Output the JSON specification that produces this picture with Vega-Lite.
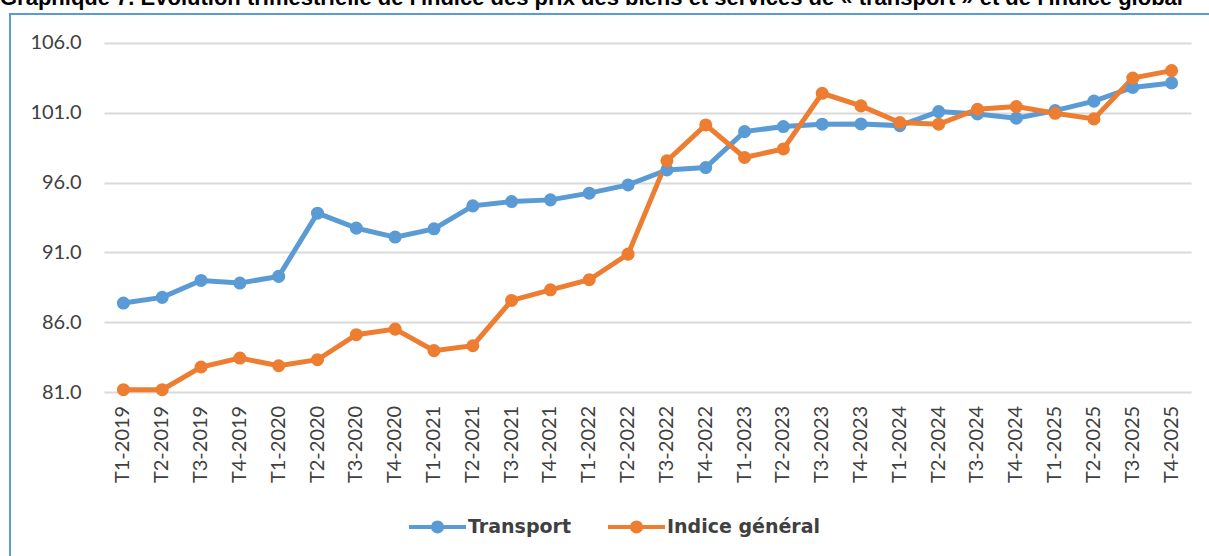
{
  "$schema": "https://vega.github.io/schema/vega-lite/v6.json",
  "autosize": {"type": "none"},
  "width": 1209,
  "height": 560,
  "padding": {"left": 10, "top": 14, "right": 0, "bottom": 0},
  "background": "white",
  "config": {
    "view": {"stroke": "#5B9BD5", "strokeWidth": 2},
    "font": "Lato"
  },
  "title": {
    "text": "Graphique 7. Évolution trimestrielle de l'indice des prix des biens et services de « transport » et de l'indice global",
    "anchor": "start",
    "font": "Liberation Sans",
    "fontWeight": "bold",
    "fontSize": 22,
    "color": "#000000",
    "baseline": "alphabetic",
    "offset": 6,
    "dy": 19,
    "dx": -10
  },
  "data": {
    "values": [
      {"q": "T1-2019", "serie": "Transport", "v": 87.38},
      {"q": "T2-2019", "serie": "Transport", "v": 87.79},
      {"q": "T3-2019", "serie": "Transport", "v": 89.0},
      {"q": "T4-2019", "serie": "Transport", "v": 88.81},
      {"q": "T1-2020", "serie": "Transport", "v": 89.29},
      {"q": "T2-2020", "serie": "Transport", "v": 93.81},
      {"q": "T3-2020", "serie": "Transport", "v": 92.74},
      {"q": "T4-2020", "serie": "Transport", "v": 92.1},
      {"q": "T1-2021", "serie": "Transport", "v": 92.69},
      {"q": "T2-2021", "serie": "Transport", "v": 94.33},
      {"q": "T3-2021", "serie": "Transport", "v": 94.64},
      {"q": "T4-2021", "serie": "Transport", "v": 94.76},
      {"q": "T1-2022", "serie": "Transport", "v": 95.24},
      {"q": "T2-2022", "serie": "Transport", "v": 95.83},
      {"q": "T3-2022", "serie": "Transport", "v": 96.9},
      {"q": "T4-2022", "serie": "Transport", "v": 97.07},
      {"q": "T1-2023", "serie": "Transport", "v": 99.64},
      {"q": "T2-2023", "serie": "Transport", "v": 100.0},
      {"q": "T3-2023", "serie": "Transport", "v": 100.17},
      {"q": "T4-2023", "serie": "Transport", "v": 100.19},
      {"q": "T1-2024", "serie": "Transport", "v": 100.07},
      {"q": "T2-2024", "serie": "Transport", "v": 101.07},
      {"q": "T3-2024", "serie": "Transport", "v": 100.9},
      {"q": "T4-2024", "serie": "Transport", "v": 100.6},
      {"q": "T1-2025", "serie": "Transport", "v": 101.14},
      {"q": "T2-2025", "serie": "Transport", "v": 101.82},
      {"q": "T3-2025", "serie": "Transport", "v": 102.8},
      {"q": "T4-2025", "serie": "Transport", "v": 103.12},
      {"q": "T1-2019", "serie": "Indice général", "v": 81.19},
      {"q": "T2-2019", "serie": "Indice général", "v": 81.19},
      {"q": "T3-2019", "serie": "Indice général", "v": 82.81},
      {"q": "T4-2019", "serie": "Indice général", "v": 83.45},
      {"q": "T1-2020", "serie": "Indice général", "v": 82.9},
      {"q": "T2-2020", "serie": "Indice général", "v": 83.33},
      {"q": "T3-2020", "serie": "Indice général", "v": 85.12},
      {"q": "T4-2020", "serie": "Indice général", "v": 85.52},
      {"q": "T1-2021", "serie": "Indice général", "v": 83.98},
      {"q": "T2-2021", "serie": "Indice général", "v": 84.33},
      {"q": "T3-2021", "serie": "Indice général", "v": 87.57},
      {"q": "T4-2021", "serie": "Indice général", "v": 88.33},
      {"q": "T1-2022", "serie": "Indice général", "v": 89.05},
      {"q": "T2-2022", "serie": "Indice général", "v": 90.88},
      {"q": "T3-2022", "serie": "Indice général", "v": 97.55},
      {"q": "T4-2022", "serie": "Indice général", "v": 100.12},
      {"q": "T1-2023", "serie": "Indice général", "v": 97.79},
      {"q": "T2-2023", "serie": "Indice général", "v": 98.4},
      {"q": "T3-2023", "serie": "Indice général", "v": 102.38},
      {"q": "T4-2023", "serie": "Indice général", "v": 101.48},
      {"q": "T1-2024", "serie": "Indice général", "v": 100.29},
      {"q": "T2-2024", "serie": "Indice général", "v": 100.17},
      {"q": "T3-2024", "serie": "Indice général", "v": 101.24},
      {"q": "T4-2024", "serie": "Indice général", "v": 101.43},
      {"q": "T1-2025", "serie": "Indice général", "v": 100.95},
      {"q": "T2-2025", "serie": "Indice général", "v": 100.55},
      {"q": "T3-2025", "serie": "Indice général", "v": 103.47},
      {"q": "T4-2025", "serie": "Indice général", "v": 104.0}
    ]
  },
  "encoding": {
    "x": {
      "field": "q",
      "type": "nominal",
      "sort": null,
      "scale": {"type": "band", "range": [94, 1181], "paddingInner": 0, "paddingOuter": 0},
      "axis": {
        "title": null,
        "orient": "bottom",
        "offset": -181.7,
        "labelAngle": -90,
        "labelPadding": 13,
        "labelFont": "Lato",
        "labelFontSize": 20,
        "labelColor": "#404040",
        "labelOverlap": false,
        "ticks": false,
        "domain": false,
        "grid": false
      }
    },
    "y": {
      "field": "v",
      "type": "quantitative",
      "scale": {"domain": [68.01, 108.05], "nice": false, "zero": false},
      "axis": {
        "title": null,
        "values": [81, 86, 91, 96, 101, 106],
        "format": ".1f",
        "offset": -71,
        "labelPadding": 0,
        "labelFont": "Lato",
        "labelFontSize": 20,
        "labelColor": "#404040",
        "ticks": false,
        "domain": false,
        "grid": true,
        "gridColor": "#D9D9D9",
        "gridWidth": 2
      }
    },
    "color": {
      "field": "serie",
      "type": "nominal",
      "sort": ["Transport", "Indice général"],
      "scale": {"domain": ["Transport", "Indice général"], "range": ["#5B9BD5", "#ED7D31"]},
      "legend": {
        "title": null,
        "orient": "none",
        "direction": "horizontal",
        "legendX": 397,
        "legendY": 482,
        "symbolType": "M-1,0H1M0.16,0A0.16,0.16,0,1,1,-0.16,0A0.16,0.16,0,1,1,0.16,0Z",
        "symbolSize": 3249,
        "symbolStrokeWidth": 4,
        "labelFont": "DejaVu Sans",
        "labelFontWeight": "bold",
        "labelFontSize": 19,
        "labelColor": "#404040",
        "labelOffset": 0,
        "columnPadding": 28,
        "encode": {
          "symbols": {
            "update": {
              "fill": {"scale": "color", "field": "value"},
              "stroke": {"scale": "color", "field": "value"},
              "opacity": {"value": 1}
            }
          }
        }
      }
    }
  },
  "layer": [
    {"mark": {"type": "line", "strokeWidth": 5}},
    {"mark": {"type": "point", "filled": true, "size": 170, "opacity": 1}}
  ]
}
